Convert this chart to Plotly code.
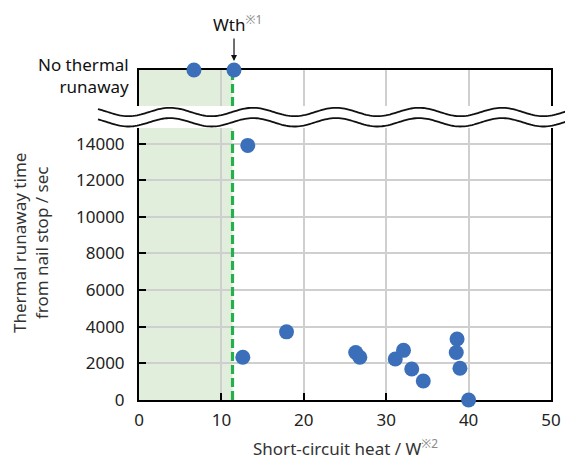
import numpy as np
import plotly.graph_objects as go

# Short-circuit heat (W) vs. time to thermal runaway after the nail stops (s)
heat_runaway = [13.2, 12.6, 17.9, 26.3, 26.8, 31.1, 32.1, 33.1, 34.5, 38.6, 38.5, 38.95, 40.0]
time_runaway = [13900, 2330, 3720, 2590, 2330, 2240, 2710, 1690, 1040, 3330, 2590, 1730, 0]

# Cells that never went into thermal runaway
heat_safe = [6.67, 11.53]

# Threshold heat Wth
wth = 11.35

y_ticks = [0, 2000, 4000, 6000, 8000, 10000, 12000, 14000]
x_ticks = [0, 10, 20, 30, 40, 50]
y_max = 14850

FONT = "Noto Sans"
BLUE = "#3c6fb9"
GREEN = "#25b04b"
SHADE = "#e1eedc"
GRID = "#cfcfcf"

# page geometry (px)
W, H = 565, 459
L, R, T, B = 139, 14, 70, 59
PW = W - L - R
PH = H - T - B


def px(xp):
    return (xp - L) / PW


def py(yp):
    return (H - B - yp) / PH


bottom_dom = [0, py(128)]
top_dom = [py(106), 1]

fig = go.Figure()

# threshold line in both panels (drawn first so markers sit on top)
fig.add_trace(go.Scatter(
    x=[wth, wth], y=[0, y_max], mode="lines",
    line=dict(color=GREEN, width=3.2, dash="9px,4px"),
    xaxis="x", yaxis="y", hoverinfo="skip",
))
fig.add_trace(go.Scatter(
    x=[wth, wth], y=[0, 1], mode="lines",
    line=dict(color=GREEN, width=3.2, dash="9px,4px"),
    xaxis="x2", yaxis="y2", hoverinfo="skip",
))

fig.add_trace(go.Scatter(
    x=heat_runaway, y=time_runaway, mode="markers",
    marker=dict(size=15, color=BLUE), cliponaxis=False,
    xaxis="x", yaxis="y", hoverinfo="x+y",
))
fig.add_trace(go.Scatter(
    x=heat_safe, y=[1] * len(heat_safe), mode="markers",
    marker=dict(size=15, color=BLUE), cliponaxis=False,
    xaxis="x2", yaxis="y2", hoverinfo="x",
))

axis_common = dict(
    showline=True, linecolor="black", linewidth=2,
    gridcolor=GRID, gridwidth=1.5, zeroline=False,
    layer="below traces", automargin=False,
)

fig.update_layout(
    width=W, height=H,
    margin=dict(l=L, r=R, t=T, b=B, autoexpand=False),
    paper_bgcolor="white", plot_bgcolor="white",
    showlegend=False,
    font=dict(family=FONT, size=17, color="#222"),
    xaxis=dict(
        domain=[0, 1], range=[0, 50], tickvals=x_ticks,
        ticks="inside", ticklen=7, tickwidth=1.5, tickcolor="black",
        showgrid=True, anchor="y", mirror=False,
        ticklabelstandoff=4,
        **axis_common,
    ),
    yaxis=dict(
        domain=bottom_dom, range=[0, y_max], tickvals=y_ticks, tickformat="d",
        ticks="inside", ticklen=7, tickwidth=1.5, tickcolor="black",
        showgrid=True, anchor="x", mirror=True,
        ticklabelstandoff=9,
        **axis_common,
    ),
    xaxis2=dict(
        domain=[0, 1], range=[0, 50], tickvals=x_ticks,
        matches="x", anchor="y2", side="top",
        showticklabels=False, ticks="", showgrid=True,
        **axis_common,
    ),
    yaxis2=dict(
        domain=top_dom, range=[0, 1], tickvals=[0],
        ticks="inside", ticklen=7, tickwidth=1.5, tickcolor="black",
        showticklabels=False, showgrid=True, anchor="x2", mirror=True,
        **axis_common,
    ),
)

shapes = []
# shaded region below the threshold, both panels
for yref in ("y domain", "y2 domain"):
    shapes.append(dict(type="rect", xref="x", yref=yref, x0=0, x1=wth, y0=0, y1=1,
                       fillcolor=SHADE, line=dict(width=0), layer="below"))

# axis-break mark: two parallel waves with white between them
wx = np.linspace(98, 566, 240)
phase = 2 * np.pi * (wx - 170) / 83
top_wave = 112 - 4.2 * np.cos(phase)
bot_wave = 122.3 - 4.2 * np.cos(phase)


def path_of(xs, ys):
    pts = [f"{px(a):.5f},{py(b):.5f}" for a, b in zip(xs, ys)]
    return "M" + " L".join(pts)


fill_path = path_of(wx, top_wave) + " L" + " L".join(
    f"{px(a):.5f},{py(b):.5f}" for a, b in zip(wx[::-1], bot_wave[::-1])) + " Z"
shapes.append(dict(type="path", xref="paper", yref="paper", path=fill_path,
                   fillcolor="white", line=dict(width=0), layer="above"))
for wy in (top_wave, bot_wave):
    shapes.append(dict(type="path", xref="paper", yref="paper", path=path_of(wx, wy),
                       line=dict(color="#111", width=1.8), layer="above"))

fig.update_layout(shapes=shapes)

sup = "<sup><span style='color:#8a8a8a'>{}</span></sup>"

fig.add_annotation(
    xref="paper", yref="paper", x=px(31), y=py(243),
    text="Thermal runaway time<br>from nail stop / sec",
    textangle=-90, showarrow=False, xanchor="center", yanchor="middle",
    font=dict(size=17, color="#333"),
)
fig.add_annotation(
    xref="paper", yref="paper", x=0.5, y=py(447),
    text="Short-circuit heat / W" + sup.format("※2"),
    showarrow=False, xanchor="center", yanchor="middle",
    font=dict(size=17, color="#333"),
)
fig.add_annotation(
    xref="paper", yref="paper", x=px(131), y=py(75),
    text="No thermal<br>runaway", align="right",
    showarrow=False, xanchor="right", yanchor="middle",
    font=dict(size=17, color="#111"),
)
fig.add_annotation(
    xref="x2", yref="y2", x=heat_safe[1], y=1,
    text="", showarrow=True, ax=0, ay=-33, standoff=9,
    arrowhead=2, arrowsize=1, arrowwidth=1.2, arrowcolor="#111",
)
fig.add_annotation(
    xref="paper", yref="paper", x=px(237), y=py(23),
    text="Wth" + sup.format("※1"),
    showarrow=False, xanchor="center", yanchor="middle",
    font=dict(size=17, color="#111"),
)

fig.write_html("out.html")
